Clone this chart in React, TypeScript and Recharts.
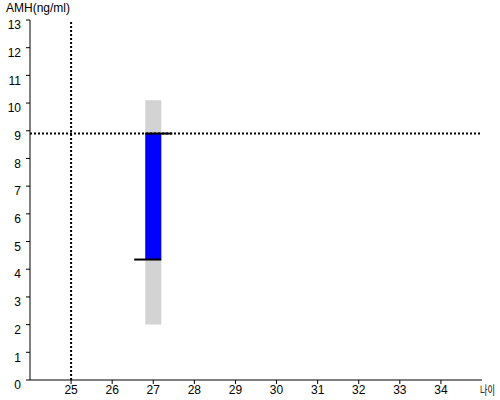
import {
  ComposedChart,
  Line,
  ReferenceArea,
  ReferenceLine,
  XAxis,
  YAxis,
  Label,
} from "recharts";

// patient results
const ages = [27];
const normalLow = [2.0];
const normalHigh = [10.1];
const amhLow = [4.35];
const amhHigh = [8.9];

// reference guides
const refAge = 25;
const refAmh = 8.9;

const xTicks = [25, 26, 27, 28, 29, 30, 31, 32, 33, 34];
const yTicks = [0, 1, 2, 3, 4, 5, 6, 7, 8, 9, 10, 11, 12, 13];

const data = ages.map((age, i) => ({
  age,
  low: normalLow[i],
  high: normalHigh[i],
}));

const BAR_HALF = 0.195; // in age units
const CAP_EXT = 0.27;

const font = "Arial, 'Liberation Sans', sans-serif";

export default function App() {
  const tick = { fill: "#000", fontSize: 12, fontFamily: font };
  return (
    <div style={{ position: "absolute", left: 0, top: 0, background: "#fff" }}>
      <ComposedChart
        width={500}
        height={400}
        data={data}
        margin={{ top: 20, right: 18, bottom: 0, left: 0 }}
      >
        <XAxis
          type="number"
          dataKey="age"
          domain={[24, 35]}
          ticks={xTicks}
          allowDataOverflow
          tick={tick}
          tickSize={4}
          tickMargin={1}
          height={20}
          stroke="#000"
        >
          <Label
            content={(p: any) => (
              <text
                x={p.viewBox.x + p.viewBox.width - 2}
                y={p.viewBox.y + 15}
                fontSize={12}
                textLength={15}
                lengthAdjust="spacingAndGlyphs"
                fontFamily="'Noto Sans CJK KR', sans-serif"
                fill="#000"
              >
                나이
              </text>
            )}
          />
        </XAxis>
        <YAxis
          type="number"
          domain={[0, 13]}
          ticks={yTicks}
          interval={0}
          allowDataOverflow
          width={30}
          tick={{ ...tick, dy: 5 }}
          tickSize={4}
          tickMargin={5}
          stroke="#000"
        >
          <Label
            content={() => (
              <text x={6} y={12} fontSize={12} fontFamily={font} fill="#000">
                AMH(ng/ml)
              </text>
            )}
          />
        </YAxis>

        <Line dataKey="high" hide isAnimationActive={false} />

        {ages.map((a, i) => (
          <ReferenceArea
            key={`n-${i}`}
            x1={a - BAR_HALF}
            x2={a + BAR_HALF}
            y1={normalLow[i]}
            y2={normalHigh[i]}
            fill="#d3d3d3"
            fillOpacity={1}
            stroke="none"
            ifOverflow="visible"
          />
        ))}
        {ages.map((a, i) => (
          <ReferenceArea
            key={`a-${i}`}
            x1={a - BAR_HALF}
            x2={a + BAR_HALF}
            y1={amhLow[i]}
            y2={amhHigh[i]}
            fill="#0000ff"
            fillOpacity={1}
            stroke="none"
            ifOverflow="visible"
          />
        ))}

        <ReferenceLine
          x={refAge}
          stroke="#000"
          strokeWidth={2}
          strokeDasharray="2 2"
        />
        <ReferenceLine
          y={refAmh}
          stroke="#000"
          strokeWidth={2}
          strokeDasharray="2 2"
        />

        {ages.map((a, i) => (
          <ReferenceLine
            key={`hi-${i}`}
            segment={[
              { x: a - BAR_HALF, y: amhHigh[i] },
              { x: a + BAR_HALF + CAP_EXT, y: amhHigh[i] },
            ]}
            stroke="#000"
            strokeWidth={2}
          />
        ))}
        {ages.map((a, i) => (
          <ReferenceLine
            key={`lo-${i}`}
            segment={[
              { x: a - BAR_HALF - CAP_EXT, y: amhLow[i] },
              { x: a + BAR_HALF, y: amhLow[i] },
            ]}
            stroke="#000"
            strokeWidth={2}
          />
        ))}
      </ComposedChart>
    </div>
  );
}
